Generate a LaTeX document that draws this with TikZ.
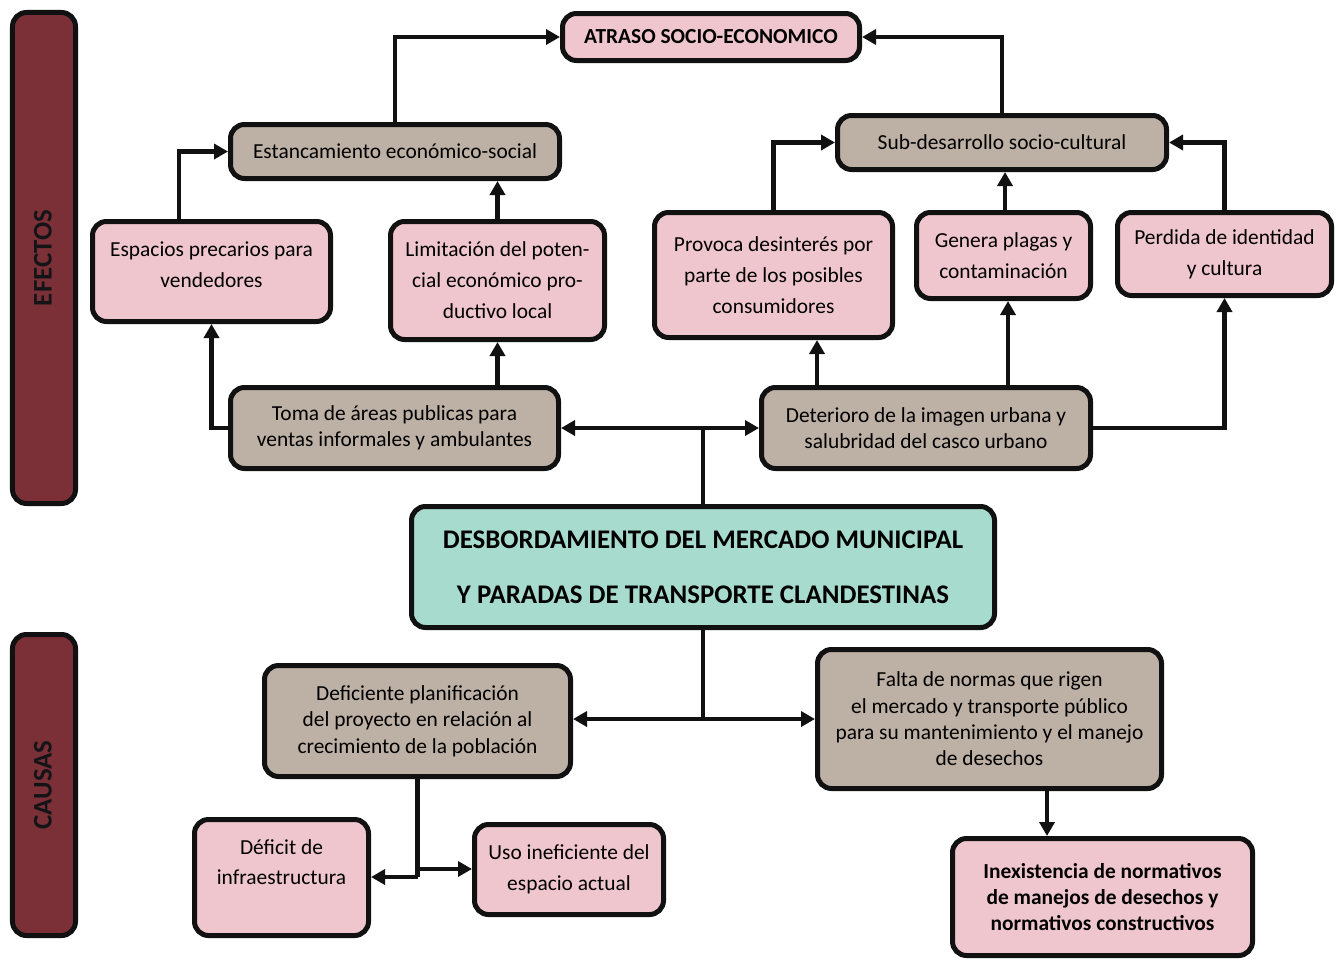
\documentclass[tikz,border=0pt]{standalone}
\usepackage{fontspec}
\setmainfont{Carlito}
\usetikzlibrary{arrows.meta,calc}
\definecolor{maroon}{HTML}{7A3036}
\definecolor{pinkbox}{HTML}{F0C6CE}
\definecolor{graybox}{HTML}{BDB0A4}
\definecolor{tealbox}{HTML}{A7DBCE}
\definecolor{edge}{HTML}{111111}
\definecolor{bartext}{HTML}{141418}
\tikzset{
  box/.style={draw=edge, line width=5bp, rounded corners=14bp, inner sep=0pt, align=center},
  pinkb/.style={box, fill=pinkbox, font=\fontsize{21.5}{31}\selectfont},
  grayb/.style={box, fill=graybox, font=\fontsize{21.5}{26.5}\selectfont},
  barb/.style={draw=edge, line width=5bp, rounded corners=14bp, fill=maroon, inner sep=0pt},
  bartxt/.style={rotate=90, font=\fontsize{27}{27}\selectfont\bfseries, text=bartext},
  conn/.style={draw=edge, line width=4.5bp},
  arr/.style={conn, -{Triangle[length=14bp,width=15bp]}},
}
\begin{document}
\begin{tikzpicture}[x=1bp,y=-1bp]
\useasboundingbox (0,0) rectangle (1337,960);
% side bars
\node[barb, minimum width=63bp, minimum height=491bp] (efbar) at (44,258) {};
\node[bartxt] (eftext) at (43,258) {EFECTOS};
\node[barb, minimum width=63bp, minimum height=301bp] (cabar) at (44,785) {};
\node[bartxt] (catext) at (43,785) {CAUSAS};
% effects
\node[pinkb, font=\fontsize{21.5}{26}\selectfont\bfseries, minimum width=297bp, minimum height=47bp] (atraso) at (711,37) {ATRASO SOCIO-ECONOMICO};
\node[grayb, minimum width=329bp, minimum height=54bp] (estan) at (395,151.5) {Estancamiento económico-social};
\node[grayb, minimum width=329bp, minimum height=54bp] (sub) at (1002,142.5) {Sub-desarrollo socio-cultural};
\node[pinkb, minimum width=238bp, minimum height=100bp] (esp) at (211.5,271.5) {Espacios precarios para\\vendedores\\[-17bp]\mbox{}};
\node[pinkb, minimum width=214bp, minimum height=118bp] (lim) at (497.5,280.5) {Limitación del poten-\\cial económico pro-\\ductivo local};
\node[pinkb, minimum width=238bp, minimum height=125bp] (prov) at (773.5,275) {Provoca desinterés por\\parte de los posibles\\consumidores};
\node[pinkb, minimum width=174bp, minimum height=86bp] (gen) at (1003.5,255.5) {Genera plagas y\\contaminación};
\node[pinkb, minimum width=214bp, minimum height=83bp] (perd) at (1224.5,254) {Perdida de identidad\\y cultura};
\node[grayb, minimum width=328bp, minimum height=81bp] (toma) at (394.5,428) {Toma de áreas publicas para\\ventas informales y ambulantes};
\node[grayb, minimum width=329bp, minimum height=81bp] (det) at (926,428) {Deterioro de la imagen urbana y\\salubridad del casco urbano};
% central problem
\node[box, fill=tealbox, font=\fontsize{27}{55}\selectfont\bfseries, minimum width=583bp, minimum height=121bp] (title) at (703,567) {DESBORDAMIENTO DEL MERCADO MUNICIPAL\\Y PARADAS DE TRANSPORTE CLANDESTINAS};
% causes
\node[grayb, minimum width=306bp, minimum height=111bp] (defi) at (417.5,721) {Deficiente planificación\\del proyecto en relación al\\crecimiento de la población};
\node[grayb, minimum width=344bp, minimum height=139bp] (falta) at (989.5,719) {Falta de normas que rigen\\el mercado y transporte público\\para su mantenimiento y el manejo\\de desechos};
\node[pinkb, minimum width=174bp, minimum height=116bp] (deficit) at (281.5,877.5) {Déficit de\\infraestructura\\\mbox{}};
\node[pinkb, minimum width=189bp, minimum height=90bp] (uso) at (569,869.5) {Uso ineficiente del\\espacio actual};
\node[grayb, fill=pinkbox, font=\fontsize{21.5}{26.5}\selectfont\bfseries, minimum width=300bp, minimum height=117bp] (inex) at (1102.5,897) {Inexistencia de normativos\\de manejos de desechos y\\normativos constructivos};
% connectors: effects
\draw[arr] (estan.north) |- (atraso.west);
\draw[arr] (sub.north) |- (atraso.east);
\draw[arr] ([xshift=-32.5bp]esp.north) |- (estan.west);
\draw[arr] (lim.north) -- (lim.north |- estan.south);
\draw[arr] (prov.north) |- (sub.west);
\draw[arr] ([xshift=1.5bp]gen.north) -- ([xshift=1.5bp]gen.north |- sub.south);
\draw[arr] (perd.north) |- (sub.east);
\draw[arr] (toma.west) -| (esp.south);
\draw[arr] (lim.south |- toma.north) -- (lim.south);
\draw[arr] ([xshift=-109bp]det.north) -- ([xshift=-109bp]det.north |- prov.south);
\draw[arr] ([xshift=82bp]det.north) -- ([xshift=82bp]det.north |- gen.south);
\draw[arr] (det.east) -| (perd.south);
\coordinate (j1) at (title.north |- toma.east);
\draw[conn] (title.north) -- (j1);
\draw[arr] (j1) -- (toma.east);
\draw[arr] (j1) -- (det.west);
% connectors: causes
\coordinate (j2) at (703,719);
\draw[conn] (title.south) -- (j2);
\draw[arr] (j2) -- (j2 -| defi.east);
\draw[arr] (j2) -- (j2 -| falta.west);
\coordinate (j3) at (417.5,877);
\draw[conn] (defi.south) -- (j3);
\draw[arr] (j3) -- (j3 -| deficit.east);
\draw[arr] ([yshift=8bp]j3) -- ([yshift=8bp]j3 -| uso.west);
\draw[arr] ([xshift=57.5bp]falta.south) -- ([xshift=57.5bp]falta.south |- inex.north);
\end{tikzpicture}
\end{document}
